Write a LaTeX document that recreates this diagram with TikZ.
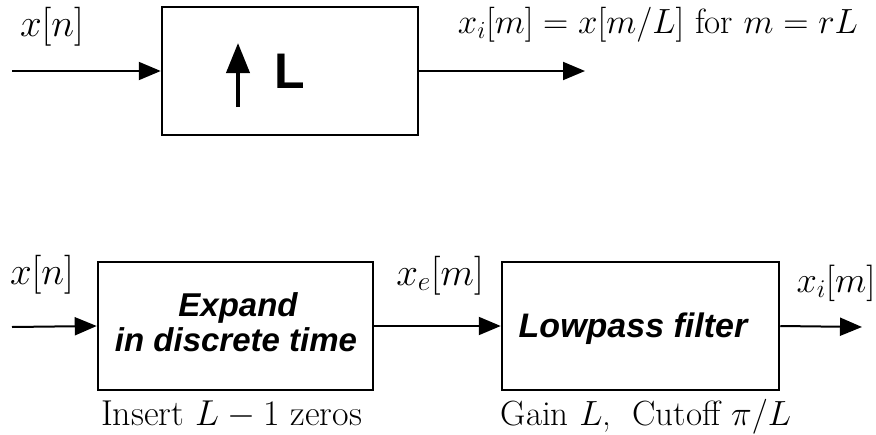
\RequirePackage{fix-cm}
\documentclass[tikz,border=0pt]{standalone}
\usepackage{fontspec}
\newfontfamily\hv{Liberation Sans}
\usetikzlibrary{arrows.meta}
\begin{document}
\begin{tikzpicture}[x=1pt,y=-1pt,
  blk/.style={draw,line width=2.5pt,inner sep=0pt},
  conn/.style={line width=2pt,-{Triangle[length=22pt,width=18pt]}},
  lbl/.style={inner sep=0pt,anchor=base,font=\fontsize{35}{40}\selectfont},
  blab/.style={inner sep=0pt,anchor=base,font=\fontsize{39}{42}\selectfont},
  inner/.style={inner sep=0pt,align=center,font=\hv\bfseries\itshape\fontsize{33}{38}\selectfont}]
\useasboundingbox (0,0) rectangle (876,434);
% top system
\node[blk,minimum width=256pt,minimum height=128pt] (up) at (290,71) {};
\coordinate (tin) at (12,71);
\coordinate (tout) at (585,71);
\draw[conn] (tin) -- (up.west);
\draw[conn] (up.east) -- (tout);
\coordinate (ab) at (238,107);
\coordinate (at) at (238,43);
\draw[line width=4pt,-{Triangle[length=30pt,width=23pt]}] (ab) -- (at);
\node[inner sep=0pt,font=\hv\bfseries\fontsize{50}{50}\selectfont] (Lt) at (290,71) {L};
\node[blab] (txn) at (52,36) {$x[n]$};
\node[lbl] (txi) at (658,33) {$x_i[m]=x[m/L]$ for $m=rL$};
% bottom system
\node[blk,minimum width=275pt,minimum height=128pt] (ex) at (235.5,326) {};
\node[blk,minimum width=277pt,minimum height=128pt] (lp) at (640.5,326) {};
\coordinate (bin) at (12,327);
\coordinate (bout) at (862,327);
\draw[conn] (bin) -- (ex.west);
\draw[conn] (ex.east) -- (lp.west);
\draw[conn] (lp.east) -- (bout);
\node[inner,anchor=base] (ext1) at (238,316) {Expand};
\node[inner,anchor=base] (ext2) at (236,351) {in discrete time};
\node[inner,anchor=base,font=\hv\bfseries\itshape\fontsize{34}{38}\selectfont] (lpt) at (633,337) {Lowpass filter};
\node[blab] (bxn) at (42,284) {$x[n]$};
\node[blab] (bxe) at (440,285) {$x_e[m]$};
\node[lbl,font=\fontsize{36.5}{40}\selectfont] (bxi) at (836,292) {$x_i[m]$};
\node[lbl,font=\fontsize{36}{40}\selectfont] (ins) at (231.5,425) {Insert $L-1$ zeros};
\node[lbl] (gain) at (646,425) {Gain $L$,\ \ Cutoff $\pi/L$};
\end{tikzpicture}
\end{document}
